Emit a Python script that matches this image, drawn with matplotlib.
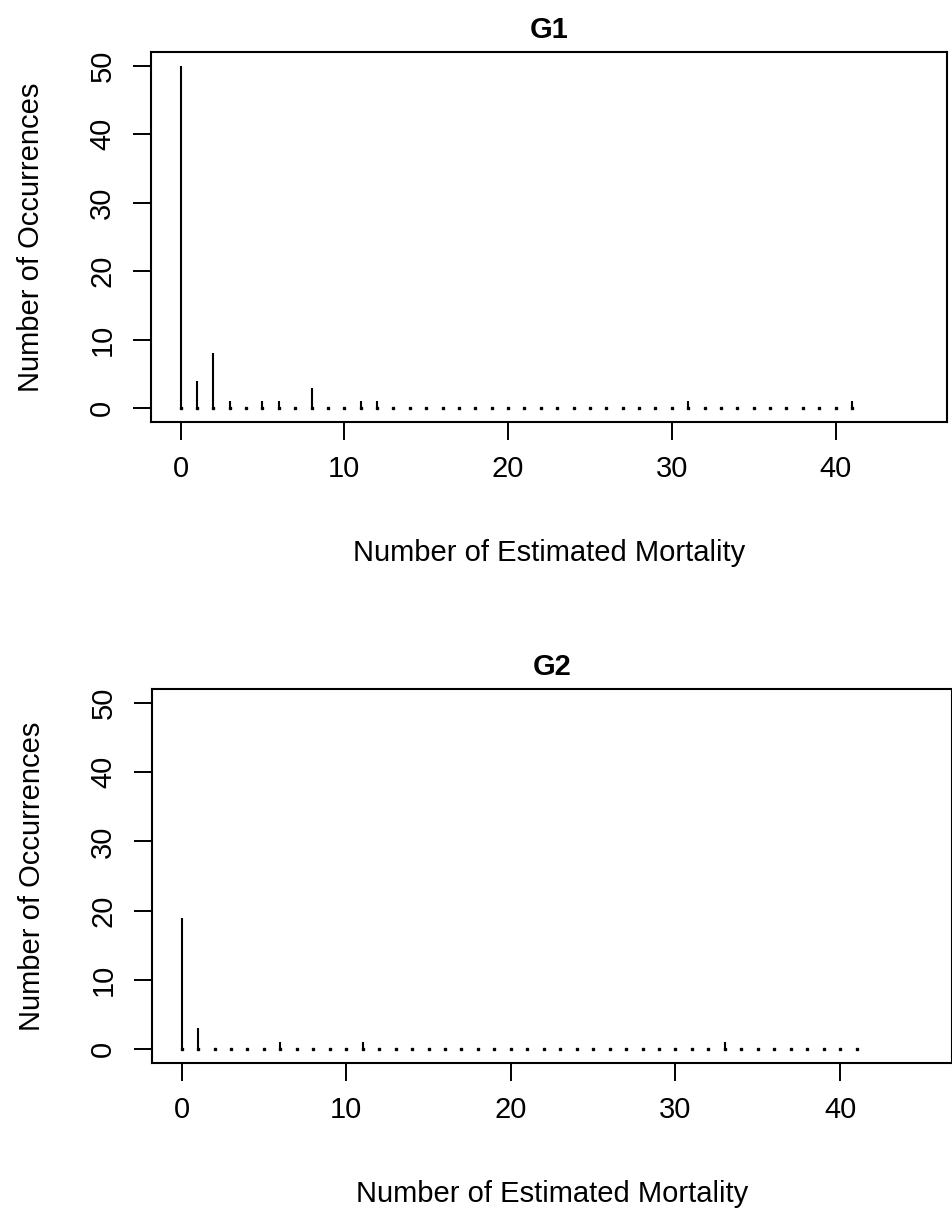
import numpy as np
import matplotlib
matplotlib.use('Agg')
from matplotlib import pyplot as plt

# estimated mortality counts 0..41 and how often each occurred
mortality = np.arange(0, 42)

g1_counts = [50, 4, 8, 1, 0, 1, 1, 0, 3, 0,
             0, 1, 1, 0, 0, 0, 0, 0, 0, 0,
             0, 0, 0, 0, 0, 0, 0, 0, 0, 0,
             0, 1, 0, 0, 0, 0, 0, 0, 0, 0,
             0, 1]
g2_counts = [19, 3, 0, 0, 0, 0, 1, 0, 0, 0,
             0, 1, 0, 0, 0, 0, 0, 0, 0, 0,
             0, 0, 0, 0, 0, 0, 0, 0, 0, 0,
             0, 0, 0, 1, 0, 0, 0, 0, 0, 0,
             0, 0]

x_ticks = [0, 10, 20, 30, 40]
y_ticks = [0, 10, 20, 30, 40, 50]

plt.rcParams['font.family'] = ['Liberation Sans', 'DejaVu Sans']
FS = 21


def draw_panel(ax, counts, title):
    ax.vlines(mortality, 0, counts, colors='black', linewidth=1.5)
    # R's type="h" leaves a dot for zero-height bars
    ax.plot(mortality, np.zeros(len(mortality)), linestyle='none',
            marker='s', markersize=1.6, color='black')
    ax.set_xlim(-1.8, 46.8)
    ax.set_ylim(-2, 52)
    ax.set_xticks(x_ticks)
    ax.set_yticks(y_ticks)
    ax.tick_params(length=13, width=1.4, labelsize=FS, pad=11)
    ax.tick_params(axis='y', pad=12)
    for lab in ax.get_yticklabels():
        lab.set_rotation(90)
        lab.set_va('center')
    for sp in ax.spines.values():
        sp.set_linewidth(1.5)
    ax.set_title(title, fontsize=FS, fontweight='bold', pad=10)
    ax.set_xlabel('Number of Estimated Mortality', fontsize=FS, labelpad=40)
    ax.set_ylabel('Number of Occurrences', fontsize=FS, labelpad=31)


fig = plt.figure(figsize=(9.53, 12.14), dpi=100)
ax1 = fig.add_axes([0.1585, 0.6524, 0.8352, 0.3048])
ax2 = fig.add_axes([0.1595, 0.1244, 0.8395, 0.3081])

draw_panel(ax1, g1_counts, 'G1')
draw_panel(ax2, g2_counts, 'G2')

fig.savefig('out.png', dpi=100)
